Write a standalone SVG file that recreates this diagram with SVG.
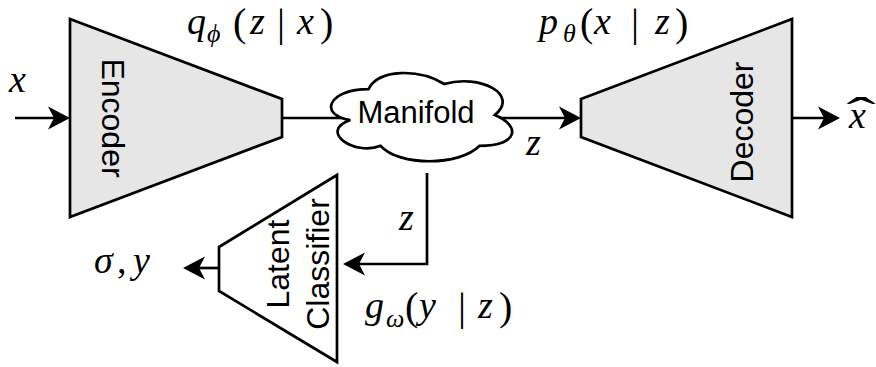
<svg xmlns="http://www.w3.org/2000/svg" width="876" height="367" viewBox="0 0 876 367">
<style>
.shape{stroke:#000;stroke-width:2.7;stroke-linejoin:miter}
.gray{fill:#e6e6e6}
.white{fill:#fff}
.lbl{font-family:"Liberation Sans",Arial,sans-serif;font-size:32px;fill:#000}
.m{font-family:"Liberation Serif","Times New Roman",serif;font-size:38px;fill:#000}
.i{font-style:italic}
.sub{font-style:italic;font-size:26px}
.p{font-size:40px}
.wire{fill:none;stroke:#000;stroke-width:2.7}
</style>
<defs>
<marker id="ah" markerUnits="userSpaceOnUse" markerWidth="40" markerHeight="40" refX="0" refY="0" orient="auto" overflow="visible" viewBox="-20 -20 40 40">
<path d="M -12 -11.5 L 10 0 L -12 11.5 L -6 0 Z" fill="#000"/>
</marker>
</defs>

<g id="connectors">
<line class="wire" x1="15" y1="118" x2="60" y2="118" marker-end="url(#ah)"/>
<line class="wire" x1="282" y1="118" x2="352" y2="118"/>
<line class="wire" x1="495" y1="118" x2="571" y2="118" marker-end="url(#ah)"/>
<line class="wire" x1="792" y1="118" x2="830" y2="118" marker-end="url(#ah)"/>
<path class="wire" d="M 427 173 V 264 H 353" marker-end="url(#ah)"/>
<line class="wire" x1="219" y1="268" x2="193" y2="268" marker-end="url(#ah)"/>
</g>

<g id="encoder">
<polygon class="shape gray" points="70,19 282,99 282,137 70,217"/>
<text class="lbl" transform="translate(113,118) rotate(90)" text-anchor="middle" dominant-baseline="central">Encoder</text>
</g>

<g id="manifold">
<path class="shape white" d="M 368.5 89.2 C 328.1 89.2 318 115 350.3 120.1 C 318 131.4 354.4 156.1 380.6 145.8 C 398.8 166.4 459.4 166.4 479.6 145.8 C 520 145.8 520 125.2 494.8 115 C 520 94.3 479.6 73.7 444.3 84 C 419 68.6 378.6 68.6 368.5 89.2 Z"/>
<text class="lbl" x="416" y="123" text-anchor="middle" style="font-size:31px">Manifold</text>
</g>

<g id="decoder">
<polygon class="shape gray" points="581,99 792,19 792,217 581,137"/>
<text class="lbl" transform="translate(742,122) rotate(-90)" text-anchor="middle" dominant-baseline="central">Decoder</text>
</g>

<g id="classifier">
<polygon class="shape white" points="219,247 337,175 337,362 219,291"/>
<text class="lbl" transform="translate(278,264) rotate(-90)" text-anchor="middle" dominant-baseline="central">Latent</text>
<text class="lbl" transform="translate(318,264) rotate(-90)" text-anchor="middle" dominant-baseline="central">Classifier</text>
</g>

<g id="labels">
<text class="m i" x="9" y="92">x</text>
<text class="m"><tspan class="i" x="187" y="34">q</tspan><tspan class="sub" x="207" y="42">ϕ</tspan><tspan class="p" x="233" y="36">(</tspan><tspan class="i" x="250" y="34">z</tspan><tspan class="p" x="277" y="36">|</tspan><tspan class="i" x="297" y="34">x</tspan><tspan class="p" x="320" y="36">)</tspan></text>
<text class="m"><tspan class="i" x="539" y="34">p</tspan><tspan class="sub" x="563" y="42">θ</tspan><tspan class="p" x="580" y="36">(</tspan><tspan class="i" x="594" y="34">x</tspan><tspan class="p" x="631" y="36">|</tspan><tspan class="i" x="655" y="34">z</tspan><tspan class="p" x="675" y="36">)</tspan></text>
<text class="m i" x="526" y="155">z</text>
<text class="m i" x="399" y="230">z</text>
<text class="m"><tspan class="i" x="365" y="318">g</tspan><tspan class="sub" x="386" y="327">ω</tspan><tspan class="p" x="405" y="320">(</tspan><tspan class="i" x="419" y="318">y</tspan><tspan class="p" x="458" y="320">|</tspan><tspan class="i" x="478" y="318">z</tspan><tspan class="p" x="499" y="320">)</tspan></text>
<text class="m"><tspan class="i" x="94" y="273">σ</tspan><tspan x="117" y="273">,</tspan><tspan class="i" x="133" y="273">y</tspan></text>
<text class="m i" x="849" y="128">x</text>
<text class="m" x="0" y="0" text-anchor="middle" transform="translate(861,130) scale(1.9,1)" style="font-size:46px">ˆ</text>
</g>
</svg>
